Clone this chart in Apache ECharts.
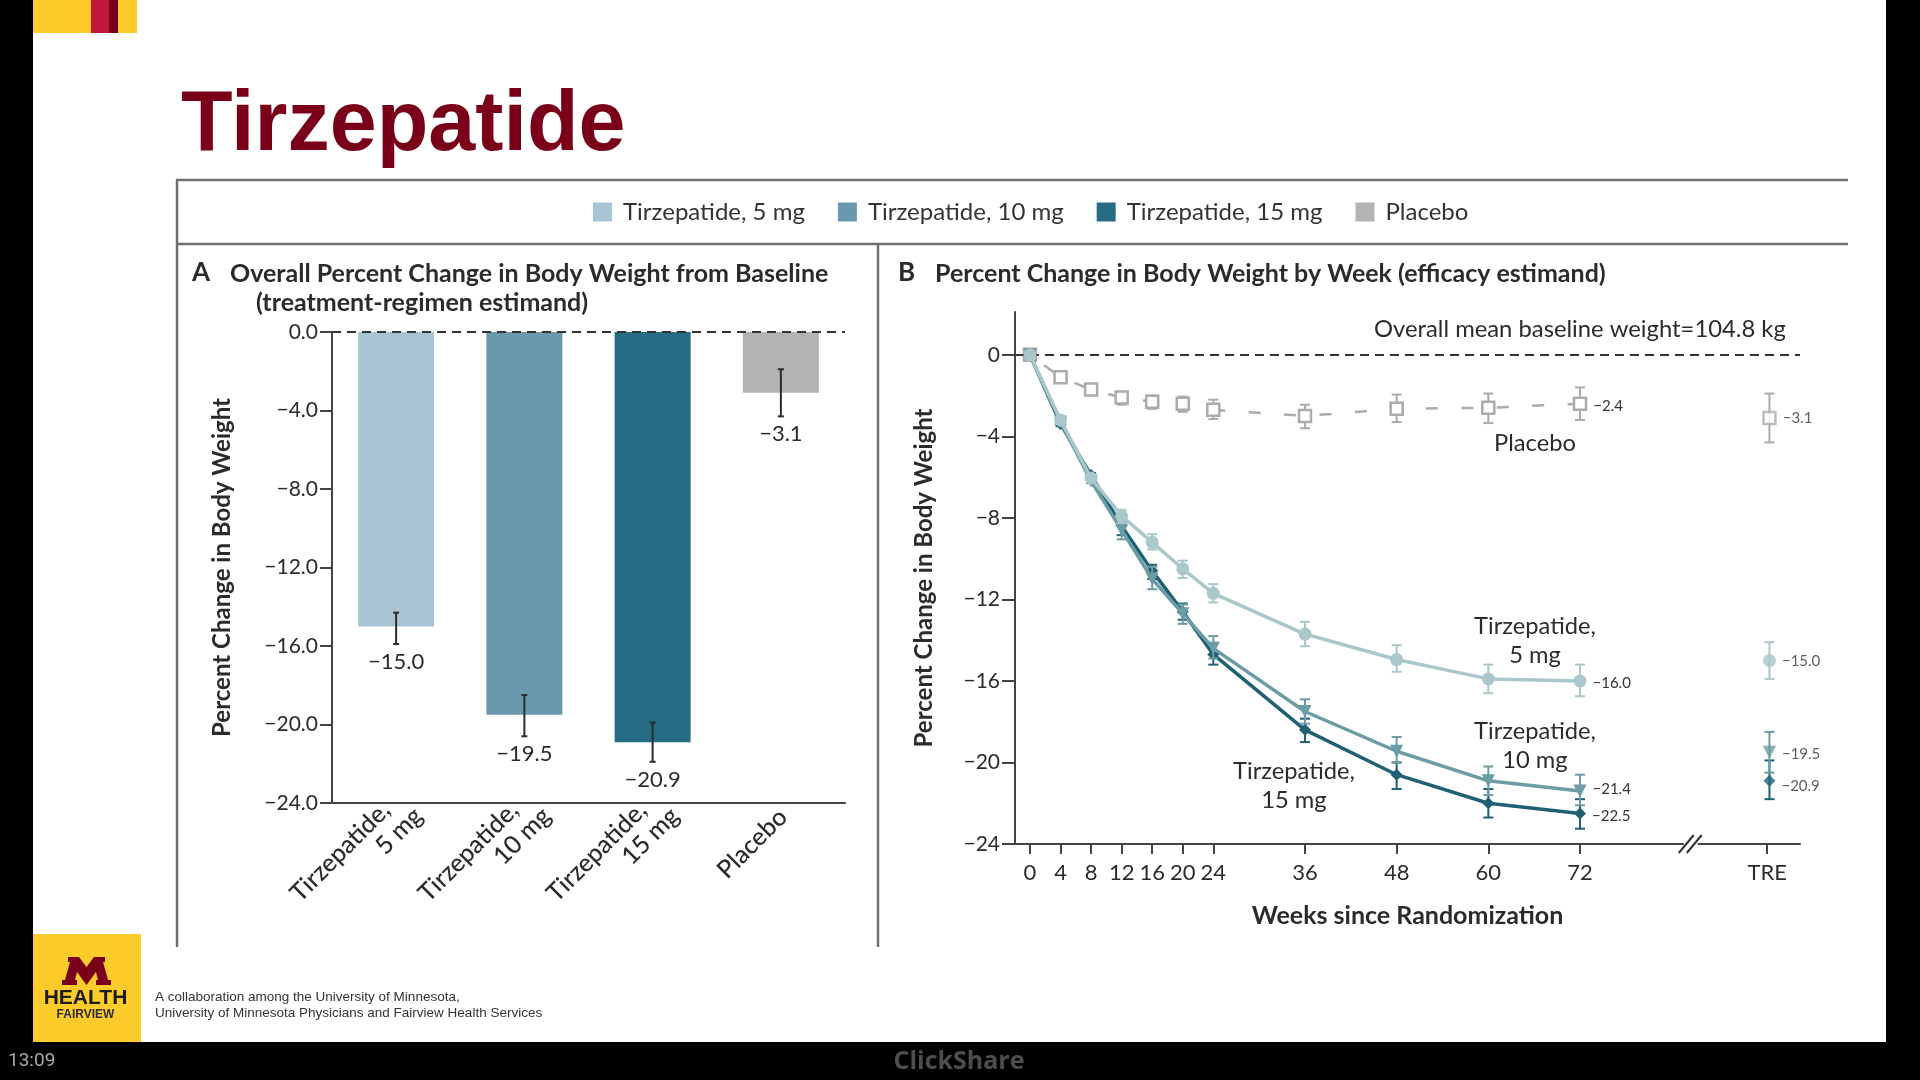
<!DOCTYPE html>
<html><head><meta charset="utf-8"><title>Tirzepatide</title>
<style>html,body{margin:0;padding:0;background:#fff}#c{width:1920px;height:1080px}</style>
<script src="https://cdn.jsdelivr.net/npm/echarts@6/dist/echarts.min.js"></script></head>
<body><div id="c"></div>
<script>
// ---- Panel A data ----
const armNames = ['Tirzepatide, 5 mg','Tirzepatide, 10 mg','Tirzepatide, 15 mg','Placebo'];
const barCategories = ['Tirzepatide,\n5 mg','Tirzepatide,\n10 mg','Tirzepatide,\n15 mg','Placebo'];
const barValues = [-15.0,-19.5,-20.9,-3.1];
const barErrHigh = [-14.3,-18.5,-19.9,-1.9];
const barErrLow  = [-15.9,-20.6,-21.9,-4.3];
const yTicksA = [0,-4,-8,-12,-16,-20,-24];
// ---- Panel B data ----
const weeks = [0,4,8,12,16,20,24,36,48,60,72];
const placeboVals = [0,-1.1,-1.7,-2.1,-2.3,-2.4,-2.7,-3.0,-2.65,-2.6,-2.4];
const placeboHigh = [0,-1.0,-1.6,-1.85,-2.0,-2.05,-2.2,-2.45,-1.95,-1.9,-1.6];
const placeboLow  = [0,-1.2,-1.8,-2.45,-2.65,-2.8,-3.15,-3.6,-3.3,-3.35,-3.2];
const mg5Vals = [0,-3.2,-6.05,-7.9,-9.2,-10.5,-11.7,-13.7,-14.95,-15.9,-16.0];
const mg5High = [0,-3.1,-5.95,-7.6,-8.8,-10.1,-11.25,-13.1,-14.25,-15.2,-15.2];
const mg5Low  = [0,-3.3,-6.15,-8.25,-9.55,-10.95,-12.15,-14.3,-15.55,-16.6,-16.75];
const mg10Vals = [0,-3.3,-6.2,-8.6,-11.0,-12.7,-14.4,-17.5,-19.45,-20.9,-21.4];
const mg10High = [0,-3.2,-6.1,-8.2,-10.4,-12.25,-13.8,-16.9,-18.75,-20.2,-20.6];
const mg10Low  = [0,-3.4,-6.3,-9.05,-11.5,-13.2,-14.9,-18.1,-20.0,-21.6,-22.1];
const mg15Vals = [0,-3.4,-5.9,-8.4,-10.6,-12.6,-14.7,-18.4,-20.6,-22.0,-22.5];
const mg15High = [0,-3.3,-5.8,-8.0,-10.3,-12.2,-14.2,-17.85,-20.0,-21.3,-21.8];
const mg15Low  = [0,-3.5,-6.0,-8.85,-11.0,-13.0,-15.2,-19.0,-21.3,-22.7,-23.25];
const treValues = [-15.0,-19.5,-20.9,-3.1];
const treHigh = [-14.1,-18.5,-19.9,-1.9];
const treLow  = [-15.9,-20.5,-21.8,-4.3];
const xTickLabels = ['0','4','8','12','16','20','24','36','48','60','72','TRE'];
const yTicksB = [0,-4,-8,-12,-16,-20,-24];
// ---- axis layout constants ----
const TRE_X = 96.5, TRE_POINT_X = 96.8, BREAK_X = 86.5, XMIN = -1.96, XMAX = 100.8, YMAXB = 2.1;

const FONT = 'Lato';
const INK = '#2b2b2b';
const barColors = ['#a9c5d3','#6a99ae','#266c85','#b1b3b5'];
const lineColors = ['#aac7cb','#6c9ca4','#1f6074','#ababab'];
const minus = v => String(v).replace('-','\u2212');
const fmt1 = v => minus(v.toFixed(1));

function txt(text,x,y,o){o=o||{};return {type:'text',z:o.z||5,x:x,y:y,silent:true,style:{text:text,fill:o.color||INK,
  font:(o.weight||'normal')+' '+(o.size||21)+'px '+(o.family||FONT),textAlign:o.align||'left',textVerticalAlign:'middle',
  lineHeight:o.lineHeight}};}
function rect(x,y,w,h,c,z){return {type:'rect',z:z===undefined?-1:z,silent:true,shape:{x:x,y:y,width:w,height:h},style:{fill:c}};}
function ln(x1,y1,x2,y2,c,w){return {type:'line',z:1,silent:true,shape:{x1:x1,y1:y1,x2:x2,y2:y2},style:{stroke:c||'#6f6f6f',lineWidth:w||2.5}};}

const graphics = [
  rect(0,0,33,1080,'#000'), rect(1886,0,34,1080,'#000'), rect(0,1042,1920,38,'#000'),
  rect(33,0,104,33,'#fdcc2b'), rect(91,0,18,33,'#c2173f'), rect(109,0,9,33,'#7a0019'),
  txt('Tirzepatide',181,127,{size:84.5,weight:'bold',family:'Liberation Sans',color:'#7a0019'}),
  ln(176,180,1848,180), ln(176,244,1848,244), ln(177,180,177,947), ln(878,244,878,947),
  txt('A',192,273,{size:26,weight:'bold'}),
  txt('Overall Percent Change in Body Weight from Baseline',230,274,{size:25,weight:'bold'}),
  txt('(treatment-regimen estimand)',256,303,{size:25,weight:'bold'}),
  txt('B',898,273,{size:26,weight:'bold'}),
  txt('Percent Change in Body Weight by Week (efficacy estimand)',935,274,{size:25,weight:'bold'}),
  txt('Overall mean baseline weight=104.8 kg',1374,329,{size:23.8}),
  txt('Placebo',1535,443,{size:23.7,align:'center'}),
  txt('Tirzepatide,\n5 mg',1535,641,{size:23.7,align:'center',lineHeight:29}),
  txt('Tirzepatide,\n10 mg',1535,746,{size:23.7,align:'center',lineHeight:29}),
  txt('Tirzepatide,\n15 mg',1294,786,{size:23.7,align:'center',lineHeight:29}),
  rect(33,934,108,108,'#fdcc2b'),
  {type:'polygon',z:5,silent:true,shape:{points:[[68,957],[79,957],[86.5,967],[94,957],[105,957],[105,962],[103,962],[108,980],[111,980],[111,985],[96,985],[96,980],[98,980],[96,972],[86.5,985],[77,972],[75,980],[77,980],[77,985],[62,985],[62,980],[65,980],[70,962],[68,962]]},style:{fill:'#7a0019'}},
  txt('HEALTH',85.5,998,{size:21,weight:'bold',family:'Liberation Sans',color:'#1c1c1c',align:'center'}),
  txt('FAIRVIEW',85.5,1015,{size:12,weight:'bold',family:'Liberation Sans',color:'#2e2e2e',align:'center'}),
  txt('A collaboration among the University of Minnesota,',155,997,{size:13.5,family:'Liberation Sans',color:'#333'}),
  txt('University of Minnesota Physicians and Fairview Health Services',155,1013,{size:13.5,family:'Liberation Sans',color:'#333'}),
  txt('13:09',8,1061,{size:19,family:'Roboto',color:'#a8a8a8'}),
  txt('ClickShare',959,1062,{size:25,weight:'bold',family:'Open Sans',color:'#4d4d4d',align:'center'})
];

const series = [];
armNames.forEach((n,i)=>{
  series.push({name:n,type:'bar',xAxisIndex:0,yAxisIndex:0,stack:'bars',barWidth:76,
    itemStyle:{color:barColors[i]},
    data:barCategories.map((c,j)=>j===i?barValues[i]:null)});
});
series.push({type:'line',xAxisIndex:0,yAxisIndex:0,data:[],silent:true,z:4,
  markLine:{silent:true,symbol:'none',label:{show:false},animation:false,
    lineStyle:{color:'#333',type:[9,6],width:2},data:[{yAxis:0}]}});
series.push({type:'custom',xAxisIndex:0,yAxisIndex:0,z:5,silent:true,
  data:barCategories.map((c,i)=>[i,barErrHigh[i],barErrLow[i],barValues[i]]),
  renderItem:(p,api)=>{
    const a=api.coord([api.value(0),api.value(1)]), b=api.coord([api.value(0),api.value(2)]);
    const st={stroke:'#2b2b2b',lineWidth:2};
    return {type:'group',children:[
      {type:'line',shape:{x1:a[0],y1:a[1],x2:b[0],y2:b[1]},style:st},
      {type:'line',shape:{x1:a[0]-3,y1:a[1],x2:a[0]+3,y2:a[1]},style:st},
      {type:'line',shape:{x1:b[0]-3,y1:b[1],x2:b[0]+3,y2:b[1]},style:st},
      {type:'text',style:{x:a[0],y:b[1]+18,text:fmt1(api.value(3)),fill:INK,font:'22px '+FONT,textAlign:'center',textVerticalAlign:'middle'}}
    ]};
  }});

series.push({type:'line',xAxisIndex:1,yAxisIndex:1,data:[],silent:true,
  markLine:{silent:true,symbol:'none',label:{show:false},animation:false,
    lineStyle:{color:'#333',type:[9,6],width:2},data:[{yAxis:0}]}});
const arms = [
  {i:3,vals:placeboVals,hi:placeboHigh,lo:placeboLow,sym:'rect',size:12,dash:[12,23.5],dashOffset:18,dy:2,tdy:0},
  {i:2,vals:mg15Vals,hi:mg15High,lo:mg15Low,sym:'diamond',size:12,dy:3,tdy:5},
  {i:1,vals:mg10Vals,hi:mg10High,lo:mg10Low,sym:'triangle',size:13,rot:180,dy:-2,tdy:2},
  {i:0,vals:mg5Vals,hi:mg5High,lo:mg5Low,sym:'circle',size:13,dy:2,tdy:1}
];
arms.forEach((a,k)=>{
  const c=lineColors[a.i], hollow=a.sym==='rect';
  const itemStyle=hollow?{color:'#fff',borderColor:c,borderWidth:2.5}:{color:c};
  const last=weeks.length-1;
  const labelStyle={show:true,position:'right',distance:6,color:'#333',fontFamily:FONT,fontSize:15};
  series.push({type:'custom',xAxisIndex:1,yAxisIndex:1,z:3+k,silent:true,
    data:weeks.map((w,j)=>[w,a.hi[j],a.lo[j]]).concat([[TRE_POINT_X,treHigh[a.i],treLow[a.i]]]),
    renderItem:(p,api)=>{
      const t=api.coord([api.value(0),api.value(1)]), b=api.coord([api.value(0),api.value(2)]);
      const st={stroke:c,lineWidth:2};
      return {type:'group',children:[
        {type:'line',shape:{x1:t[0],y1:t[1],x2:b[0],y2:b[1]},style:st},
        {type:'line',shape:{x1:t[0]-5,y1:t[1],x2:t[0]+5,y2:t[1]},style:st},
        {type:'line',shape:{x1:b[0]-5,y1:b[1],x2:b[0]+5,y2:b[1]},style:st}
      ]};
    }});
  series.push({name:armNames[a.i],type:'line',xAxisIndex:1,yAxisIndex:1,z:3+k,
    data:weeks.map((w,j)=>[w,a.vals[j]]),
    symbol:a.sym,symbolSize:a.size,symbolRotate:a.rot||0,showAllSymbol:true,
    lineStyle:{color:c,width:hollow?2.5:3.5,type:a.dash||'solid',dashOffset:a.dashOffset||0},itemStyle:itemStyle,
    label:Object.assign({},labelStyle,{offset:[0,a.dy],formatter:p=>p.dataIndex===last?fmt1(a.vals[last]):''})});
  series.push({name:armNames[a.i],type:'scatter',xAxisIndex:1,yAxisIndex:1,z:3+k,
    data:[[TRE_POINT_X,treValues[a.i]]],symbol:a.sym,symbolSize:a.size,symbolRotate:a.rot||0,itemStyle:itemStyle,
    label:Object.assign({},labelStyle,{offset:[0,a.tdy],formatter:fmt1(treValues[a.i])})});
});
series.push({type:'custom',xAxisIndex:1,yAxisIndex:1,z:8,silent:true,clip:false,data:[[BREAK_X,-24]],
  renderItem:(p,api)=>{
    const o=api.coord([api.value(0),api.value(1)]);
    const st={stroke:'#333',lineWidth:2};
    return {type:'group',children:[
      {type:'rect',shape:{x:o[0]-7,y:o[1]-3,width:14,height:6},style:{fill:'#fff'}},
      {type:'line',shape:{x1:o[0]-12,y1:o[1]+9,x2:o[0]+3,y2:o[1]-9},style:st},
      {type:'line',shape:{x1:o[0]-4,y1:o[1]+9,x2:o[0]+11,y2:o[1]-9},style:st}
    ]};
  }});

const axisLine={show:true,onZero:false,lineStyle:{color:'#444',width:2}};
const tickLine={show:true,lineStyle:{color:'#444',width:2}};
const labelBase={color:INK,fontFamily:FONT,fontSize:21};
const nameStyle={color:INK,fontFamily:FONT,fontSize:24,fontWeight:'bold'};

const option={
  animation:false,
  backgroundColor:'#fff',
  graphic:{elements:graphics},
  legend:{
    show:true,left:593,top:200,padding:0,itemWidth:19,itemHeight:19,itemGap:33,icon:'rect',
    data:armNames,selectedMode:false,
    textStyle:{color:'#333',fontFamily:FONT,fontSize:24,padding:[0,0,0,6]}
  },
  grid:[
    {left:332,top:332,width:513,height:471},
    {left:1015,top:312,width:785,height:532}
  ],
  xAxis:[
    {type:'category',gridIndex:0,
     data:barCategories.map(c=>({value:c,textStyle:c.indexOf('\n')>=0?{padding:[54,-18,0,0]}:{padding:[16,-3,0,0]}})),
     position:'bottom',axisLine:axisLine,axisTick:{show:false},
     axisLabel:Object.assign({},labelBase,{interval:0,rotate:45,margin:12,fontSize:25,fontWeight:500,lineHeight:27,
       formatter:v=>v.replace('\n','\u00a0\u00a0\u00a0\n')})},
    {type:'value',gridIndex:1,min:XMIN,max:XMAX,position:'bottom',splitLine:{show:false},
     axisLine:axisLine,
     axisTick:Object.assign({},tickLine,{length:10,customValues:weeks.concat([TRE_X])}),
     axisLabel:Object.assign({},labelBase,{margin:18,fontSize:22,customValues:weeks.concat([TRE_X]),
       formatter:v=>xTickLabels[weeks.concat([TRE_X]).indexOf(v)]}),
     name:'Weeks since Randomization',nameLocation:'middle',nameGap:59,nameTextStyle:{color:INK,fontFamily:FONT,fontSize:25,fontWeight:'bold'}}
  ],
  yAxis:[
    {type:'value',gridIndex:0,min:-24,max:0,interval:4,splitLine:{show:false},
     axisLine:axisLine,axisTick:Object.assign({},tickLine,{length:12,customValues:yTicksA}),
     axisLabel:Object.assign({},labelBase,{margin:14,customValues:yTicksA,formatter:fmt1}),
     name:'Percent Change in Body Weight',nameLocation:'middle',nameGap:98,nameTextStyle:nameStyle},
    {type:'value',gridIndex:1,min:-24,max:YMAXB,splitLine:{show:false},
     axisLine:axisLine,axisTick:Object.assign({},tickLine,{length:13,customValues:yTicksB}),
     axisLabel:Object.assign({},labelBase,{margin:15,customValues:yTicksB,formatter:v=>minus(v)}),
     name:'Percent Change in Body Weight',nameLocation:'middle',nameGap:79,nameTextStyle:nameStyle}
  ],
  series:series
};
const chart=echarts.init(document.getElementById('c'),null,{renderer:'canvas'});
chart.setOption(option);
</script></body></html>
